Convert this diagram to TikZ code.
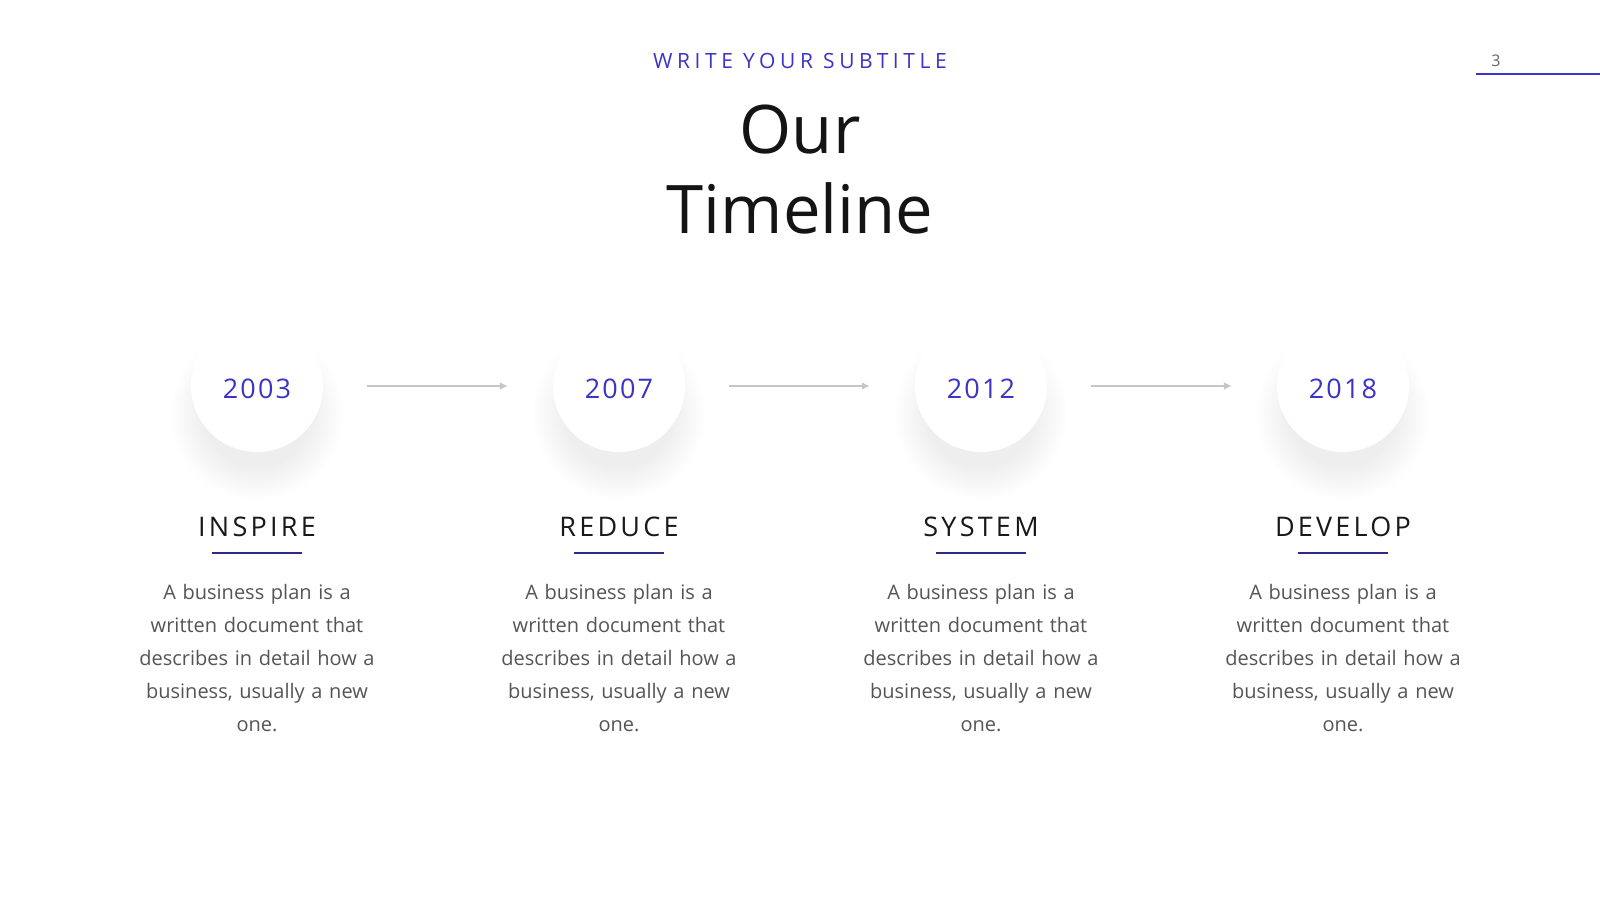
\documentclass[tikz,border=0pt]{standalone}
\usepackage{fontspec}
\setmainfont{Open Sans}
\newfontfamily\subfont[LetterSpace=22]{Open Sans}
\newfontfamily\headfont[LetterSpace=12]{Open Sans}
\newfontfamily\yearfont[LetterSpace=8]{Open Sans}
\usetikzlibrary{arrows.meta}
\definecolor{accent}{HTML}{3B34C4}
\definecolor{navy}{HTML}{2E2A8C}
\definecolor{bodygray}{HTML}{555555}
\definecolor{arrowgray}{HTML}{C6C6C6}
\tikzset{
  yearcircle/.style={circle, fill=white, minimum size=132pt, inner sep=0pt,
    text=accent, font=\yearfont\fontsize{27}{30}\selectfont},
  shadowring/.style={fill=black, fill opacity=0.0055, draw=none},
  headtext/.style={font=\headfont\fontsize{27}{30}\selectfont, text=black!90, anchor=base},
  bodytext/.style={font=\fontsize{20}{33}\selectfont, text=bodygray, align=center, text width=250pt, anchor=north},
  underline/.style={draw=navy, line width=2.5pt},
  link/.style={draw=arrowgray, line width=2pt, -{Latex[length=8pt,width=8pt]}, shorten <=44pt, shorten >=45pt},
}
\begin{document}
\begin{tikzpicture}[x=1pt,y=-1pt]
\useasboundingbox (0,0) rectangle (1600,900);
\fill[white] (0,0) rectangle (1600,900);
% header
\node[font=\subfont\fontsize{21}{24}\selectfont, text=accent, anchor=base] (sub) at (800,68) {WRITE YOUR SUBTITLE};
\node[font=\fontsize{67}{80}\selectfont, text=black!92, anchor=base] (t1) at (800,153) {Our};
\node[font=\fontsize{67}{80}\selectfont, text=black!92, anchor=base] (t2) at (800,233) {Timeline};
\node[font=\fontsize{16}{18}\selectfont, text=black!60, anchor=base] (pg) at (1496,66) {3};
\coordinate (pl) at (1476,74);
\coordinate (pr) at (1600,74);
\draw[draw=accent, line width=2pt] (pl) -- (pr);
% shadows
\foreach \x in {257,619,981,1343}{
  \foreach \r in {54,56,...,86}{
    \fill[shadowring] (\x,414) circle[radius=\r];
  }
}
% circles
\foreach \i/\x/\yr in {1/257/2003, 2/619/2007, 3/981/2012, 4/1343/2018}{
  \node[yearcircle] (c\i) at (\x,386) {\raisebox{-12pt}[0pt][0pt]{\yr}};
}
\draw[link] (c1) -- (c2);
\draw[link] (c2) -- (c3);
\draw[link] (c3) -- (c4);
% headings
\foreach \i/\x/\h in {1/257/INSPIRE, 2/619/REDUCE, 3/981/SYSTEM, 4/1343/DEVELOP}{
  \node[headtext] (h\i) at (\x,536) {\h};
  \coordinate (ul\i) at (\x-45,553);
  \coordinate (ur\i) at (\x+45,553);
  \draw[underline] (ul\i) -- (ur\i);
  \node[bodytext] (b\i) at (\x,581) {A business plan is a\\ written document that\\ describes in detail how a\\ business, usually a new\\ one.};
}
\end{tikzpicture}
\end{document}
